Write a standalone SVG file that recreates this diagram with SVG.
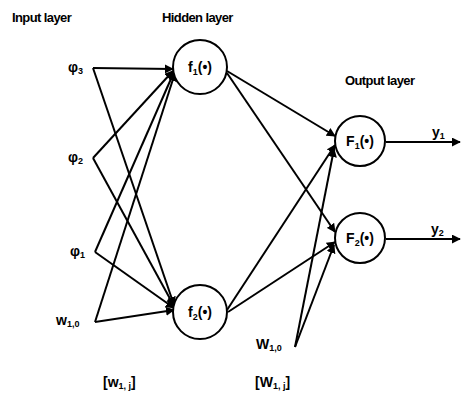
<svg xmlns="http://www.w3.org/2000/svg" width="461" height="397" viewBox="0 0 461 397">
<defs>
<marker id="ah" viewBox="0 0 10 10" refX="9" refY="5" markerWidth="9" markerHeight="9" markerUnits="userSpaceOnUse" orient="auto">
<path d="M0,0 L10,5 L0,10 z" fill="#000"/>
</marker>
</defs>
<style>
text{font-family:"Liberation Sans",Arial,sans-serif;fill:#000}
.h{font-size:13px;font-weight:bold;letter-spacing:-0.6px}
.n{font-size:14px;font-weight:bold}
.s{font-size:9px;font-weight:bold}
.c{fill:#fff;stroke:#000;stroke-width:2}
.e{stroke:#000;stroke-width:2;fill:none;marker-end:url(#ah)}
</style>
<rect width="461" height="397" fill="#fff"/>
<text class="h" x="12" y="22">Input layer</text>
<text class="h" x="162" y="22">Hidden layer</text>
<text class="h" x="345" y="85">Output layer</text>
<g id="connectors">
<line class="e" x1="93" y1="68" x2="173" y2="69"/>
<line class="e" x1="93" y1="158" x2="173" y2="71"/>
<line class="e" x1="95" y1="252" x2="174" y2="72"/>
<line class="e" x1="95" y1="322" x2="175" y2="73"/>
<line class="e" x1="93" y1="68" x2="174" y2="305"/>
<line class="e" x1="93" y1="158" x2="174" y2="306"/>
<line class="e" x1="95" y1="252" x2="174" y2="308"/>
<line class="e" x1="95" y1="322" x2="174" y2="310"/>
<line class="e" x1="227" y1="71" x2="335" y2="136"/>
<line class="e" x1="227" y1="73" x2="335" y2="232"/>
<line class="e" x1="227" y1="310" x2="335" y2="145"/>
<line class="e" x1="228" y1="312" x2="335" y2="242"/>
<line class="e" x1="295" y1="347" x2="334" y2="149"/>
<line class="e" x1="295" y1="347" x2="334" y2="245"/>
<line class="e" x1="386" y1="142" x2="460" y2="142"/>
<line class="e" x1="386" y1="239" x2="460" y2="239"/>
</g>
<g id="f1"><circle class="c" cx="200" cy="67" r="27"/><text class="n" x="200" y="72" text-anchor="middle">f<tspan class="s" dy="3">1</tspan><tspan dy="-3">(•)</tspan></text></g>
<g id="f2"><circle class="c" cx="200" cy="312" r="27"/><text class="n" x="200" y="317" text-anchor="middle">f<tspan class="s" dy="3">2</tspan><tspan dy="-3">(•)</tspan></text></g>
<g id="F1"><circle class="c" cx="360" cy="141" r="25"/><text class="n" x="360" y="146" text-anchor="middle">F<tspan class="s" dy="3">1</tspan><tspan dy="-3">(•)</tspan></text></g>
<g id="F2"><circle class="c" cx="360" cy="238" r="25"/><text class="n" x="360" y="243" text-anchor="middle">F<tspan class="s" dy="3">2</tspan><tspan dy="-3">(•)</tspan></text></g>
<g id="in3"><text class="n" x="68" y="72">φ<tspan class="s" dy="2">3</tspan></text></g>
<g id="in2"><text class="n" x="68" y="162">φ<tspan class="s" dy="2">2</tspan></text></g>
<g id="in1"><text class="n" x="70" y="256">φ<tspan class="s" dy="2">1</tspan></text></g>
<g id="in0"><text class="n" x="56" y="325">w<tspan class="s" dy="2">1,0</tspan></text></g>
<g id="y1"><text class="n" x="432" y="137">y<tspan class="s" dy="2">1</tspan></text></g>
<g id="y2"><text class="n" x="431" y="234">y<tspan class="s" dy="2">2</tspan></text></g>
<g id="W10"><text class="n" x="256" y="349">W<tspan class="s" dy="2">1,0</tspan></text></g>
<text class="n" x="103" y="387">[w<tspan class="s" dy="2">1, j</tspan><tspan dy="-2">]</tspan></text>
<text class="n" x="255" y="387">[W<tspan class="s" dy="2">1, j</tspan><tspan dy="-2">]</tspan></text>
</svg>
